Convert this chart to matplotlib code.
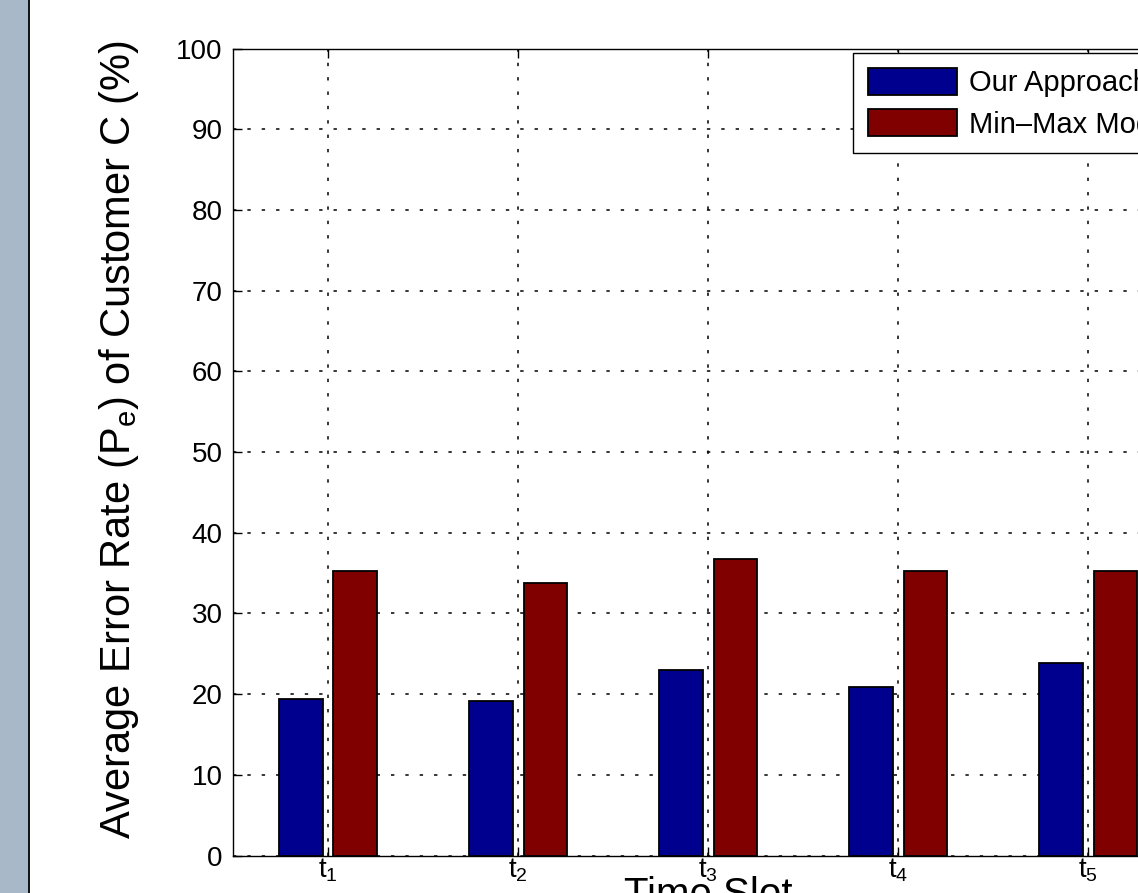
import matplotlib
matplotlib.use('Agg')
from matplotlib import pyplot as plt
from matplotlib.patches import Rectangle
import numpy as np

# average error rate per time slot (%)
slots = [r'$\mathregular{t_1}$', r'$\mathregular{t_2}$', r'$\mathregular{t_3}$',
         r'$\mathregular{t_4}$', r'$\mathregular{t_5}$']
our_approach = [19.4, 19.1, 23.0, 20.9, 23.8]
min_max_model = [35.3, 33.8, 36.7, 35.3, 35.3]
series_names = ['Our Approach', 'Min\u2013Max Model']
yticks = [0, 10, 20, 30, 40, 50, 60, 70, 80, 90, 100]

plt.rcParams['font.family'] = ['Liberation Sans', 'DejaVu Sans']
plt.rcParams['mathtext.fontset'] = 'custom'
plt.rcParams['mathtext.rm'] = 'Liberation Sans'

W, H = 1138, 893
fig = plt.figure(figsize=(W / 100, H / 100), dpi=100)

# grey side band with a dark edge
fig.add_artist(Rectangle((0, 0), 28 / W, 1, transform=fig.transFigure,
                         facecolor='#a8b8c8', edgecolor='none'))
fig.add_artist(Rectangle((28 / W, 0), 2 / W, 1, transform=fig.transFigure,
                         facecolor='#151515', edgecolor='none'))

ax = fig.add_axes([233 / W, (H - 855.5) / H, 950.4 / W, 807 / H])

x = np.arange(1, len(slots) + 1)
bw = 0.2286
off = 0.1429
b1 = ax.bar(x - off, our_approach, bw, color='#00008f', edgecolor='black',
            linewidth=1.3, zorder=3, label=series_names[0])
b2 = ax.bar(x + off, min_max_model, bw, color='#800000', edgecolor='black',
            linewidth=1.3, zorder=3, label=series_names[1])

ax.set_xlim(0.5, 5.5)
ax.set_ylim(0, 100)
ax.set_xticks(x)
ax.set_xticklabels(slots)
ax.set_yticks(yticks)

ax.grid(True, color='black', linestyle=(0, (2.2, 7.2)), linewidth=1.1, zorder=1)
ax.set_axisbelow(True)

ax.tick_params(axis='both', direction='in', length=6.5, width=1.0,
               top=True, right=True, labelsize=20)
ax.tick_params(axis='y', pad=7.5)
ax.tick_params(axis='x', pad=1)
for sp in ax.spines.values():
    sp.set_linewidth(1.0)

ax.set_ylabel(r'Average Error Rate ($\mathregular{P_e}$) of Customer C (%)', fontsize=30)
ax.yaxis.set_label_coords(-0.0963, 0.516)
ax.set_xlabel('Time Slot', fontsize=29)
ax.xaxis.set_label_coords(0.5, -0.026)

leg = ax.legend(loc='upper left', bbox_to_anchor=((853 - 233) / 950.4, (855.5 - 53) / 807),
                borderaxespad=0, fontsize=21, fancybox=False, framealpha=1,
                edgecolor='black', handlelength=3.05, handleheight=1.07,
                handletextpad=0.42, borderpad=0.5, labelspacing=0.4)
leg.get_frame().set_linewidth(1.0)

fig.savefig('out.png', dpi=100)
